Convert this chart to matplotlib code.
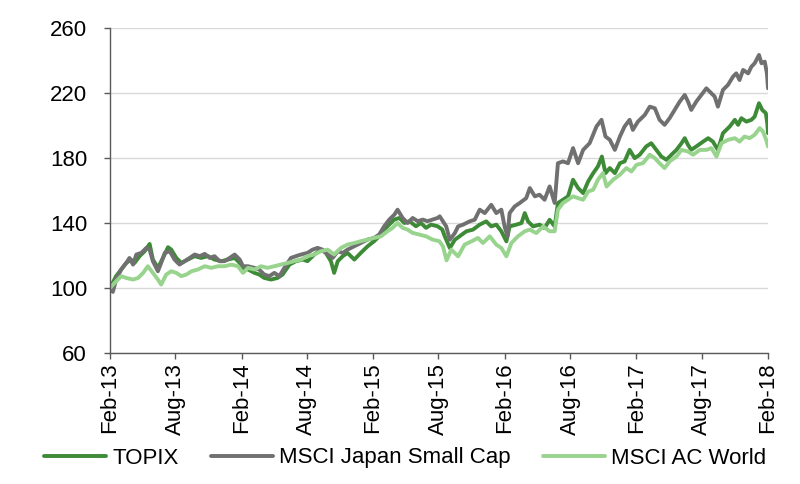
import matplotlib
matplotlib.use("Agg")
import matplotlib.pyplot as plt
import matplotlib.dates as mdates
import pandas as pd

# ---- data ----
topix_dates = [
    "2013-02-01","2013-02-18","2013-03-04","2013-03-18","2013-03-31","2013-04-10","2013-04-24","2013-05-08",
    "2013-05-22","2013-05-31","2013-06-14","2013-06-28","2013-07-12","2013-07-21","2013-08-04","2013-08-18",
    "2013-09-05","2013-09-24","2013-10-12","2013-10-31","2013-11-18","2013-12-07","2013-12-25","2014-01-13",
    "2014-01-27","2014-02-05","2014-02-19","2014-03-09","2014-03-22","2014-04-05","2014-04-24","2014-05-12",
    "2014-05-26","2014-06-14","2014-07-02","2014-07-21","2014-08-03","2014-08-22","2014-09-09","2014-09-23",
    "2014-10-07","2014-10-16","2014-10-26","2014-11-09","2014-11-22","2014-12-11","2014-12-29","2015-01-17",
    "2015-02-04","2015-02-23","2015-03-13","2015-04-01","2015-04-15","2015-04-29","2015-05-13","2015-05-31",
    "2015-06-14","2015-06-28","2015-07-12","2015-07-30","2015-08-12","2015-08-19","2015-09-02","2015-09-16",
    "2015-09-29","2015-10-18","2015-11-05","2015-11-24","2015-12-12","2015-12-26","2016-01-09","2016-01-23",
    "2016-02-06","2016-02-15","2016-03-05","2016-03-19","2016-03-28","2016-04-06","2016-04-20","2016-05-08",
    "2016-05-22","2016-06-05","2016-06-19","2016-06-28","2016-07-12","2016-07-26","2016-08-09","2016-08-23",
    "2016-09-06","2016-09-20","2016-10-04","2016-10-17","2016-10-28","2016-11-07","2016-11-19","2016-12-03",
    "2016-12-17","2016-12-30","2017-01-13","2017-01-27","2017-02-10","2017-02-28","2017-03-14","2017-03-28",
    "2017-04-11","2017-04-25","2017-05-09","2017-05-23","2017-06-06","2017-06-15","2017-06-24","2017-07-03",
    "2017-07-17","2017-08-05","2017-08-19","2017-09-01","2017-09-15","2017-09-29","2017-10-18","2017-11-01",
    "2017-11-10","2017-11-19","2017-12-03","2017-12-17","2017-12-26","2018-01-07","2018-01-16","2018-01-26",
    "2018-01-30","2018-02-01"]
topix_values = [
    100, 107.3, 111.4, 115.4, 117.5, 115.4, 119.6, 122.6,
    127.1, 117.5, 112.4, 118.5, 125.1, 123.6, 118.5, 115.4,
    117.5, 119.6, 118.5, 119.6, 117.5, 116.5, 117.5, 118.5,
    115.4, 111.4, 111.4, 109.3, 108.3, 106.2, 105.2, 106.2,
    108.3, 114.4, 116.5, 117.5, 116.5, 120.6, 123.6, 121.6,
    116.5, 109.3, 116.5, 119.6, 121.6, 117.5, 121.6, 125.7,
    128.8, 132.9, 138, 142.1, 143.1, 140, 141.1, 138,
    140, 137, 139, 138, 136, 131.8, 124.6, 129.7,
    131.8, 134.9, 135.9, 139, 141, 137.9, 139, 134.9,
    128.7, 137.9, 139, 140, 146.1, 141, 137.9, 139,
    136.9, 142, 137.9, 152.3, 154.3, 156.4, 166.6, 161.5,
    158.4, 165.6, 170.7, 174.8, 180.9, 170.7, 173.8, 170.7,
    176.8, 177.9, 185, 179.9, 182, 187.1, 189.1, 185,
    180.9, 178.9, 182, 185, 189.1, 192.2, 188.1, 185,
    187.1, 190.1, 192.2, 190.1, 185, 195.3, 199.4, 203.5,
    200.4, 204.5, 202.4, 203.5, 205.5, 213.7, 209.6, 207.6,
    201.4, 195.3]

small_dates = [
    "2013-02-01","2013-02-09","2013-02-18","2013-03-04","2013-03-18","2013-03-27","2013-04-06","2013-04-15",
    "2013-04-29","2013-05-13","2013-05-22","2013-05-31","2013-06-14","2013-06-23","2013-07-03","2013-07-17",
    "2013-07-30","2013-08-13","2013-08-27","2013-09-10","2013-09-24","2013-10-08","2013-10-22","2013-11-05",
    "2013-11-18","2013-12-02","2013-12-16","2013-12-30","2014-01-13","2014-01-27","2014-02-05","2014-02-19",
    "2014-03-09","2014-03-22","2014-04-05","2014-04-19","2014-05-03","2014-05-17","2014-05-31","2014-06-18",
    "2014-07-02","2014-07-16","2014-08-03","2014-08-17","2014-08-31","2014-09-14","2014-09-28","2014-10-12",
    "2014-10-26","2014-11-09","2014-11-22","2014-12-11","2014-12-29","2015-01-17","2015-02-04","2015-02-18",
    "2015-03-04","2015-03-18","2015-04-01","2015-04-10","2015-04-24","2015-05-08","2015-05-22","2015-06-05",
    "2015-06-19","2015-07-02","2015-07-16","2015-07-30","2015-08-05","2015-08-14","2015-08-23","2015-09-02",
    "2015-09-16","2015-09-25","2015-10-09","2015-10-27","2015-11-10","2015-11-24","2015-12-08","2015-12-26",
    "2016-01-09","2016-01-23","2016-02-01","2016-02-09","2016-02-15","2016-02-29","2016-03-14","2016-04-01",
    "2016-04-11","2016-04-25","2016-05-08","2016-05-22","2016-06-05","2016-06-19","2016-06-28","2016-07-12",
    "2016-07-26","2016-08-09","2016-08-23","2016-09-06","2016-09-24","2016-10-13","2016-10-27","2016-11-07",
    "2016-11-19","2016-12-03","2016-12-17","2016-12-30","2017-01-13","2017-01-22","2017-02-05","2017-02-24",
    "2017-03-10","2017-03-24","2017-04-06","2017-04-20","2017-05-04","2017-05-18","2017-06-01","2017-06-15",
    "2017-06-24","2017-07-03","2017-07-17","2017-07-31","2017-08-14","2017-08-28","2017-09-06","2017-09-15",
    "2017-09-29","2017-10-13","2017-10-27","2017-11-05","2017-11-14","2017-11-24","2017-12-08","2017-12-17",
    "2017-12-26","2018-01-07","2018-01-14","2018-01-23","2018-01-29","2018-02-01"]
small_values = [
    100, 97.6, 105.2, 111.4, 115.4, 118.5, 114.4, 120.6,
    121.6, 124.7, 123.6, 116.5, 110.3, 115.4, 121.6, 122.6,
    117.5, 114.4, 116.5, 118.5, 120.6, 119.6, 121, 118.5,
    119.6, 116.5, 116.5, 118.5, 120.6, 117.5, 113.4, 113.4,
    112.4, 111.4, 108.3, 107.3, 109.3, 107.3, 112.4, 118.5,
    119.6, 120.6, 121.6, 123.6, 124.7, 123.6, 120.6, 118.5,
    122.6, 121.6, 123.6, 125.7, 127.7, 129.8, 130.8, 132.9,
    138, 142.1, 145.1, 148.2, 143.1, 140, 143.1, 141.1,
    142.1, 141.1, 142.1, 143.1, 144.1, 141, 137.9, 129.7,
    133.8, 137.9, 139, 141, 142, 148.2, 146.1, 151.2,
    146.1, 148.2, 137.9, 131.8, 146.1, 150.2, 152.3, 155.3,
    161.5, 156.4, 157.4, 154.3, 162.5, 152.3, 176.8, 177.9,
    176.8, 186.1, 176.8, 185, 189.1, 199.4, 203.5, 193.2,
    191.2, 185, 193.2, 199.4, 203.5, 197.3, 202.4, 206.5,
    211.6, 210.6, 203.5, 200.4, 204.5, 209.6, 214.7, 218.8,
    214.7, 209.6, 214.7, 218.8, 222.9, 219.8, 217.8, 211.6,
    221.9, 225, 230.1, 232.1, 228, 234.2, 232.1, 236.2,
    238.3, 243.4, 238.3, 239.3, 232.1, 222.9]

acwi_dates = [
    "2013-02-01","2013-02-14","2013-03-04","2013-03-18","2013-04-06","2013-04-20","2013-05-04","2013-05-17",
    "2013-05-31","2013-06-14","2013-06-23","2013-07-07","2013-07-21","2013-08-04","2013-08-18","2013-09-01",
    "2013-09-15","2013-10-03","2013-10-22","2013-11-09","2013-11-28","2013-12-16","2014-01-04","2014-01-22",
    "2014-02-05","2014-02-19","2014-03-09","2014-03-27","2014-04-14","2014-05-03","2014-05-21","2014-06-09",
    "2014-06-27","2014-07-16","2014-08-03","2014-08-22","2014-09-09","2014-09-28","2014-10-16","2014-11-04",
    "2014-11-22","2014-12-11","2014-12-29","2015-01-17","2015-02-04","2015-02-23","2015-03-13","2015-03-27",
    "2015-04-10","2015-04-24","2015-05-08","2015-05-22","2015-06-09","2015-06-28","2015-07-16","2015-08-04",
    "2015-08-14","2015-08-24","2015-09-06","2015-09-25","2015-10-13","2015-11-01","2015-11-19","2015-12-03",
    "2015-12-22","2016-01-09","2016-01-23","2016-02-06","2016-02-20","2016-03-09","2016-03-28","2016-04-11",
    "2016-04-29","2016-05-18","2016-06-05","2016-06-19","2016-06-28","2016-07-12","2016-07-26","2016-08-09",
    "2016-08-23","2016-09-06","2016-09-20","2016-10-04","2016-10-17","2016-10-31","2016-11-10","2016-11-28",
    "2016-12-17","2017-01-04","2017-01-18","2017-02-01","2017-02-19","2017-03-10","2017-03-24","2017-04-06",
    "2017-04-20","2017-05-04","2017-05-23","2017-06-06","2017-06-24","2017-07-08","2017-07-27","2017-08-14",
    "2017-08-28","2017-09-11","2017-09-25","2017-10-13","2017-11-01","2017-11-14","2017-11-28","2017-12-12",
    "2017-12-26","2018-01-09","2018-01-18","2018-01-27","2018-02-01"]
acwi_values = [
    100, 103.2, 107.3, 106.2, 105.2, 106.2, 109.3, 113.4,
    109.3, 105.2, 102.1, 108.3, 110.3, 109.3, 107.3, 108.3,
    110.3, 111.4, 113.4, 112.4, 113.4, 113.4, 114.4, 113.4,
    109.3, 112.4, 111.4, 113.4, 112.4, 113.4, 114.4, 115.4,
    116.5, 117.5, 119.6, 120.6, 122.6, 123.6, 120.6, 124.7,
    126.7, 127.7, 128.8, 129.8, 130.8, 131.8, 134.9, 137,
    140, 137, 135.9, 133.9, 132.9, 131.8, 129.8, 128.8,
    125.6, 117, 123.6, 119.5, 126.7, 128.7, 130.8, 127.7,
    131.8, 126.7, 124.6, 119.5, 127.7, 131.8, 134.9, 135.9,
    133.8, 137.9, 134.9, 134.9, 148.2, 152.3, 154.3, 156.4,
    155.3, 154.3, 159.4, 160.5, 166.6, 170.7, 162.5, 166.6,
    169.7, 173.8, 171.7, 175.8, 176.8, 182, 179.9, 176.8,
    173.8, 177.9, 180.9, 185, 184, 182, 185, 185,
    186.1, 180.9, 189.1, 191.2, 192.2, 190.1, 193.2, 192.2,
    194.3, 198.4, 196.3, 191.2, 187.1]

series_names = ["TOPIX", "MSCI Japan Small Cap", "MSCI AC World"]
y_ticks = [60, 100, 140, 180, 220, 260]
x_tick_dates = ["2013-02-01","2013-08-01","2014-02-01","2014-08-01","2015-02-01","2015-08-01",
                "2016-02-01","2016-08-01","2017-02-01","2017-08-01","2018-02-01"]

# ---- styling ----
plt.rcParams['font.family'] = ['Liberation Sans', 'DejaVu Sans']
colors = ["#3E8B37", "#707070", "#98D48E"]
fs = 16

fig = plt.figure(figsize=(8, 4.84), dpi=100)
ax = fig.add_axes([110/800, 1-353/484, (768-110)/800, (353-28)/484])

data = [(topix_dates, topix_values), (small_dates, small_values), (acwi_dates, acwi_values)]
for (d, v), name, c in zip(data, series_names, colors):
    ax.plot(pd.to_datetime(d), v, color=c, lw=2.8, label=name,
            solid_joinstyle='round', solid_capstyle='round')

ax.set_ylim(60, 260)
ax.set_yticks(y_ticks)
xt = pd.to_datetime(x_tick_dates)
ax.set_xlim(xt[0], xt[-1])
ax.set_xticks(xt)
ax.xaxis.set_major_formatter(mdates.DateFormatter('%b-%y'))
plt.setp(ax.get_xticklabels(), rotation=90)

ax.grid(axis='y', color='#D9D9D9', lw=1)
ax.set_axisbelow(True)
for s in ['top', 'right']:
    ax.spines[s].set_visible(False)
for s in ['left', 'bottom']:
    ax.spines[s].set_color('#595959')
    ax.spines[s].set_linewidth(1)
ax.tick_params(axis='y', length=4.5, width=1, color='#595959', labelsize=fs, pad=12)
ax.tick_params(axis='x', length=4, width=1, color='#595959', labelsize=fs, pad=3)

fig.legend(loc='center', bbox_to_anchor=(405/800, 1-458/484), ncol=3, frameon=False,
           fontsize=fs, handlelength=2.8, handletextpad=0.27, columnspacing=1.45)

fig.savefig("out.png", dpi=100)
